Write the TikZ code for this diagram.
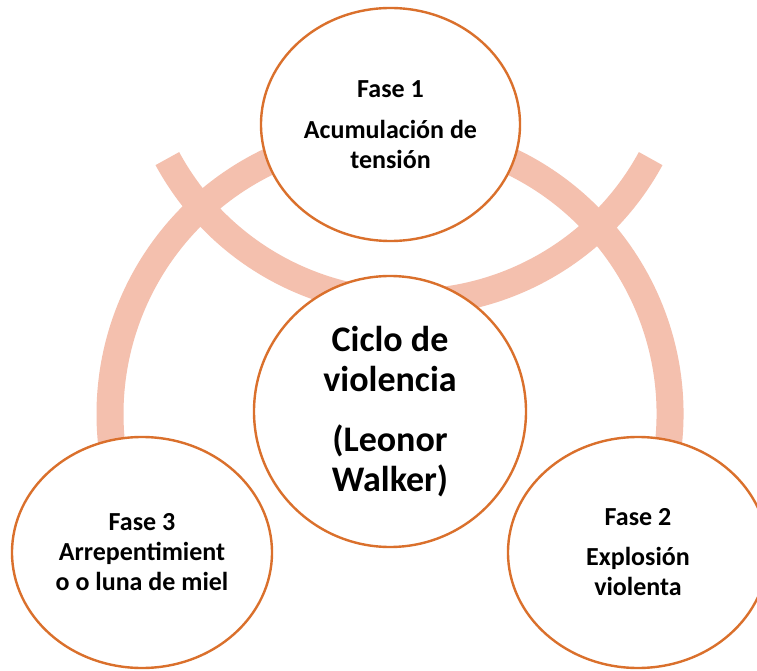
\documentclass[tikz,border=0pt]{standalone}
\usepackage{fontspec}
\setmainfont{Carlito}
\usetikzlibrary{shapes.geometric}
\definecolor{bandpink}{RGB}{244,192,174}
\definecolor{rimorange}{RGB}{218,112,44}
\tikzset{
  band/.style={draw=bandpink, line width=27pt, line cap=butt},
  phase/.style={shape=ellipse, draw=rimorange, line width=2.4pt, fill=white,
    inner sep=0pt, align=center, text=black, font=\bfseries\fontsize{26}{30}\selectfont},
  hub/.style={phase, font=\bfseries\fontsize{36}{40}\selectfont}
}
\begin{document}
\begin{tikzpicture}[x=1pt,y=1pt]
\useasboundingbox (0,0) rectangle (757,670);
\clip (0,0) rectangle (757,670);
\fill[white] (0,0) rectangle (757,670);
% arc centres
\coordinate (cB) at (390,256);
\coordinate (cA) at (409,642.6);
% big frown arc behind the outer circles
\draw[band] ([shift={(-10:280pt)}]cB) arc[start angle=-10, end angle=190, radius=280pt];
% smile arc crossing it
\draw[band] ([shift={(208.5:275pt)}]cA) arc[start angle=208.5, end angle=331.5, radius=275pt];
% circles
\node[phase, minimum width=259pt, minimum height=233pt] (f1) at (390.5,545.5)
  {Fase 1\\[11pt]Acumulación de\\tensión};
\node[hub, minimum width=272pt, minimum height=271pt] (hub) at (390,258.5)
  {Ciclo de\\violencia\\[20pt](Leonor\\Walker)};
\node[phase, minimum width=260pt, minimum height=231pt] (f3) at (142,117.5)
  {Fase 3\\Arrepentimient\\o o luna de miel};
\node[phase, minimum width=260pt, minimum height=231pt] (f2) at (638,117.5)
  {Fase 2\\[10pt]Explosión\\violenta};
\end{tikzpicture}
\end{document}
